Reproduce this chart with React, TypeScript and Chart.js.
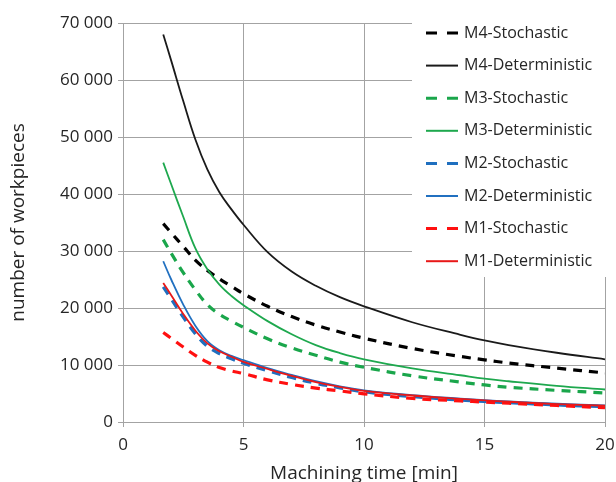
import React, { useEffect, useRef } from "react";
import { Chart, registerables } from "chart.js";

Chart.register(...registerables);

const xValues = [1.67, 2, 2.5, 3, 3.5, 4, 4.5, 5, 6, 7, 8, 9, 10, 12, 14, 15, 16, 18, 20];

const m4Stochastic = [34800, 33200, 30800, 28400, 26600, 25100, 23800, 22500, 20300, 18500, 17000, 15800, 14700, 12900, 11500, 10900, 10350, 9450, 8600];
const m4Deterministic = [68000, 63400, 56300, 49600, 44300, 40300, 37300, 34600, 29800, 26400, 23900, 21900, 20300, 17500, 15300, 14300, 13500, 12150, 11000];
const m3Stochastic = [32000, 29600, 26200, 23200, 20600, 18900, 17700, 16600, 14600, 13000, 11700, 10500, 9600, 8100, 7000, 6500, 6100, 5550, 5100];
const m3Deterministic = [45500, 41700, 36000, 30500, 26800, 24100, 22100, 20500, 17700, 15400, 13500, 12100, 11000, 9400, 8200, 7600, 7150, 6350, 5700];
const m2Stochastic = [23700, 21600, 18400, 15500, 13300, 12000, 11100, 10300, 9000, 7800, 6800, 6000, 5300, 4450, 3850, 3600, 3400, 3000, 2700];
const m2Deterministic = [28200, 25000, 20600, 16900, 14200, 12600, 11600, 10850, 9450, 8250, 7150, 6250, 5550, 4700, 4100, 3850, 3600, 3200, 2900];
const m1Stochastic = [15700, 14700, 13150, 11700, 10500, 9550, 8950, 8500, 7400, 6600, 5950, 5450, 4950, 4150, 3700, 3500, 3300, 2900, 2500];
const m1Deterministic = [24400, 22250, 18950, 16050, 13800, 12400, 11450, 10550, 9300, 8100, 7000, 6150, 5450, 4650, 4050, 3800, 3550, 3150, 2850];

const seriesLabels = [
  "M4-Stochastic",
  "M4-Deterministic",
  "M3-Stochastic",
  "M3-Deterministic",
  "M2-Stochastic",
  "M2-Deterministic",
  "M1-Stochastic",
  "M1-Deterministic",
];
const seriesValues = [
  m4Stochastic,
  m4Deterministic,
  m3Stochastic,
  m3Deterministic,
  m2Stochastic,
  m2Deterministic,
  m1Stochastic,
  m1Deterministic,
];
const seriesColors = ["#000000", "#1a1a1a", "#1aa64b", "#1ea84e", "#1f6fbf", "#2170c0", "#ff1010", "#e81818"];
const seriesDashed = [true, false, true, false, true, false, true, false];

const xTitle = "Machining time [min]";
const yTitle = "number of workpieces";

const FONT = "'Open Sans', sans-serif";
const TEXT = "#262626";
const GRID = "#a3a3a3";

const legendPlugin = {
  id: "customLegend",
  afterDraw(chart: any) {
    const ctx = chart.ctx;
    ctx.save();
    ctx.fillStyle = "#ffffff";
    ctx.fillRect(412, 12, 204, 265);
    chart.data.datasets.forEach((ds: any, i: number) => {
      const y = 33 + i * 32.6;
      ctx.beginPath();
      ctx.strokeStyle = ds.borderColor;
      ctx.lineWidth = ds.borderDash && ds.borderDash.length ? 3 : 2;
      ctx.setLineDash(ds.borderDash && ds.borderDash.length ? [11, 10] : []);
      ctx.moveTo(426, y);
      ctx.lineTo(458, y);
      ctx.stroke();
      ctx.setLineDash([]);
      ctx.fillStyle = TEXT;
      ctx.font = `16px ${FONT}`;
      ctx.textBaseline = "middle";
      ctx.textAlign = "left";
      ctx.fillText(ds.label, 464, y);
    });
    ctx.restore();
  },
};

export default function App() {
  const canvasRef = useRef<HTMLCanvasElement | null>(null);

  useEffect(() => {
    if (!canvasRef.current) return;
    const datasets = seriesLabels.map((label, i) => ({
      label,
      data: xValues.map((x, j) => ({ x, y: seriesValues[i][j] })),
      borderColor: seriesColors[i],
      backgroundColor: seriesColors[i],
      borderWidth: seriesDashed[i] ? 3.2 : 1.8,
      borderDash: seriesDashed[i] ? [9, 7] : [],
      pointRadius: 0,
      fill: false,
      tension: 0.4,
      order: seriesLabels.length - i,
    }));
    const chart = new Chart(canvasRef.current, {
      type: "line",
      data: { datasets },
      plugins: [legendPlugin],
      options: {
        animation: false,
        responsive: false,
        layout: { padding: { top: 23, right: 11, left: 0, bottom: 0 } },
        plugins: {
          legend: { display: false },
          tooltip: { enabled: false },
        },
        scales: {
          x: {
            type: "linear",
            min: 0,
            max: 20,
            afterFit: (scale: any) => {
              scale.height = 60;
              scale.paddingLeft = 0;
              scale.paddingRight = 0;
            },
            ticks: {
              stepSize: 5,
              color: TEXT,
              font: { family: FONT, size: 17 },
              padding: 8,
            },
            grid: { color: GRID, tickLength: 5, lineWidth: 1 },
            border: { display: true, color: GRID },
            title: {
              display: true,
              text: xTitle,
              color: TEXT,
              font: { family: FONT, size: 19 },
              padding: { top: 0, bottom: -3 },
            },
          },
          y: {
            type: "linear",
            min: 0,
            max: 70000,
            afterFit: (scale: any) => {
              scale.width = 123;
              scale.paddingTop = 0;
              scale.paddingBottom = 0;
            },
            ticks: {
              stepSize: 10000,
              color: TEXT,
              font: { family: FONT, size: 17 },
              padding: 5,
              callback: (v: any) => String(v).replace(/\B(?=(\d{3})+(?!\d))/g, " "),
            },
            grid: { color: GRID, tickLength: 5, lineWidth: 1 },
            border: { display: false },
            title: {
              display: true,
              text: yTitle,
              color: TEXT,
              font: { family: FONT, size: 19 },
              padding: { top: 7, bottom: 0 },
            },
          },
        },
      },
    });
    return () => chart.destroy();
  }, []);

  return (
    <div style={{ position: "fixed", left: 0, top: 0, width: 616, height: 482, background: "#ffffff" }}>
      <canvas ref={canvasRef} width={616} height={482} />
    </div>
  );
}
